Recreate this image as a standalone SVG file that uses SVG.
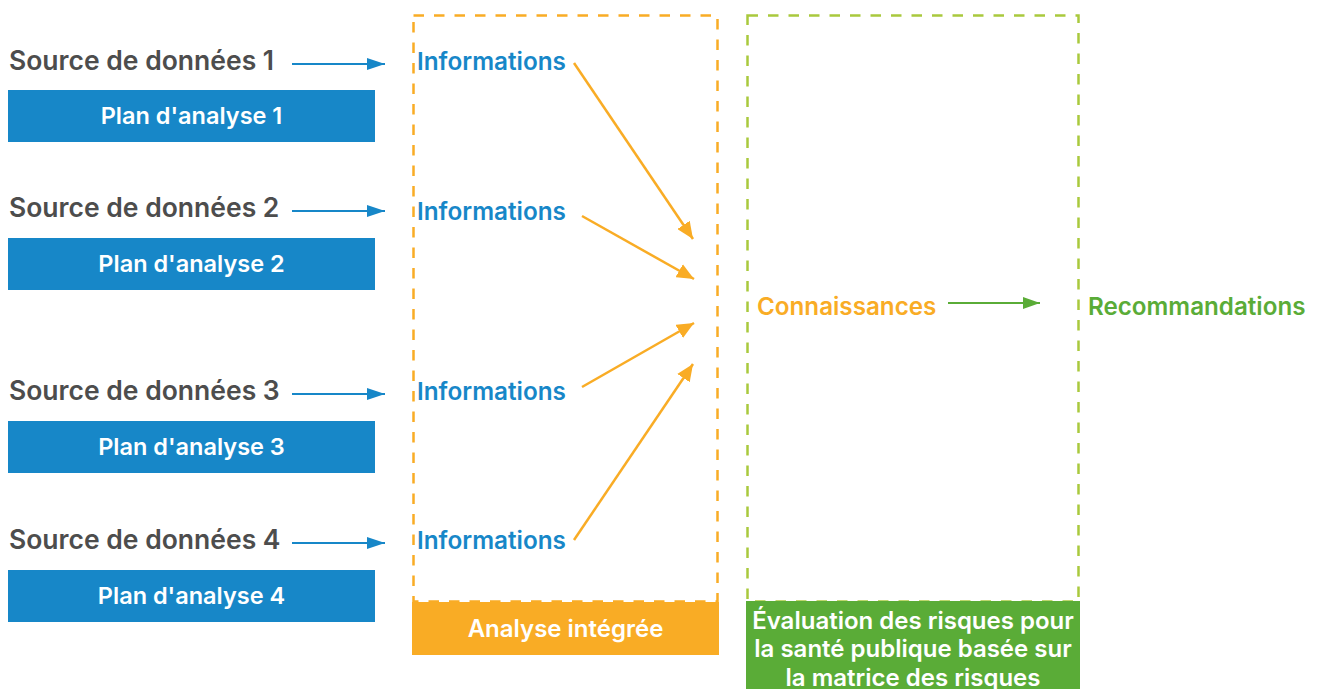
<svg xmlns="http://www.w3.org/2000/svg" width="1320" height="689" viewBox="0 0 1320 689">
  <defs>
    <style>
      text { font-family: Inter, "Liberation Sans", sans-serif; font-weight: 600; }
      .src { fill: #4d4d4d; font-size: 26.5px; }
      .plan { fill: #1787c8; }
      .plan-t { fill: #ffffff; font-size: 23.5px; text-anchor: middle; }
      .info { fill: #1787c8; font-size: 24.3px; }
      .blue-line { stroke: #1787c8; stroke-width: 2; fill: none; }
      .orange-line { stroke: #f9ac25; stroke-width: 2.5; fill: none; }
      .green-line { stroke: #5aac37; stroke-width: 2; fill: none; }
      .frame-o { fill: none; stroke: #f9ac25; stroke-width: 2.5; stroke-dasharray: 10.5 10; }
      .frame-g { fill: none; stroke: #a9c93d; stroke-width: 2.5; stroke-dasharray: 10.5 10; }
      .band-t { fill: #ffffff; font-size: 24px; text-anchor: middle; }
    </style>
    <marker id="ah-blue" viewBox="0 0 10 10" refX="10" refY="5" markerWidth="18" markerHeight="12" markerUnits="userSpaceOnUse" orient="auto" preserveAspectRatio="none">
      <path d="M0,0 L10,5 L0,10 z" fill="#1787c8"/>
    </marker>
    <marker id="ah-orange" viewBox="0 0 10 10" refX="10" refY="5" markerWidth="17" markerHeight="15" markerUnits="userSpaceOnUse" orient="auto" preserveAspectRatio="none">
      <path d="M0,0 L10,5 L0,10 z" fill="#f9ac25"/>
    </marker>
    <marker id="ah-green" viewBox="0 0 10 10" refX="10" refY="5" markerWidth="17" markerHeight="12" markerUnits="userSpaceOnUse" orient="auto" preserveAspectRatio="none">
      <path d="M0,0 L10,5 L0,10 z" fill="#5aac37"/>
    </marker>
  </defs>

  <!-- Integrated analysis frame -->
  <g id="analyse-integree">
    <rect class="frame-o" x="413.5" y="15.5" width="304" height="586"/>
    <rect x="412" y="602" width="307" height="53" fill="#f9ac25"/>
    <text class="band-t" x="565.5" y="636.5">Analyse intégrée</text>
  </g>

  <!-- Risk assessment frame -->
  <g id="evaluation-risques">
    <rect class="frame-g" x="747.5" y="15.5" width="331" height="586"/>
    <rect x="746" y="601" width="334" height="88" fill="#5aac37"/>
    <text class="band-t" x="913" y="628.5">Évaluation des risques pour</text>
    <text class="band-t" x="913" y="656.5">la santé publique basée sur</text>
    <text class="band-t" x="913" y="685.5">la matrice des risques</text>
  </g>

  <!-- Data sources and analysis plans -->
  <g id="source-1">
    <text class="src" x="9" y="70">Source de données 1</text>
    <rect class="plan" x="8" y="90" width="367" height="52"/>
    <text class="plan-t" x="191.5" y="123.5">Plan d'analyse 1</text>
  </g>
  <g id="source-2">
    <text class="src" x="9" y="217">Source de données 2</text>
    <rect class="plan" x="8" y="238" width="367" height="52"/>
    <text class="plan-t" x="191.5" y="271.5">Plan d'analyse 2</text>
  </g>
  <g id="source-3">
    <text class="src" x="9" y="399.5">Source de données 3</text>
    <rect class="plan" x="8" y="421" width="367" height="52"/>
    <text class="plan-t" x="191.5" y="454.5">Plan d'analyse 3</text>
  </g>
  <g id="source-4">
    <text class="src" x="9" y="548.5">Source de données 4</text>
    <rect class="plan" x="8" y="570" width="367" height="52"/>
    <text class="plan-t" x="191.5" y="603.5">Plan d'analyse 4</text>
  </g>

  <!-- Information items -->
  <g id="info-1"><text class="info" x="417" y="70">Informations</text></g>
  <g id="info-2"><text class="info" x="417" y="220">Informations</text></g>
  <g id="info-3"><text class="info" x="417" y="400">Informations</text></g>
  <g id="info-4"><text class="info" x="417" y="549">Informations</text></g>

  <!-- Outcomes -->
  <g id="connaissances"><text x="757" y="315" font-size="24.2" fill="#f9ac25">Connaissances</text></g>
  <g id="recommandations"><text x="1088" y="315" font-size="24.2" fill="#5aac37">Recommandations</text></g>

  <!-- Connectors -->
  <g id="connectors">
    <line class="blue-line" x1="292" y1="64" x2="385" y2="64" marker-end="url(#ah-blue)"/>
    <line class="blue-line" x1="292" y1="211" x2="385" y2="211" marker-end="url(#ah-blue)"/>
    <line class="blue-line" x1="292" y1="394" x2="385" y2="394" marker-end="url(#ah-blue)"/>
    <line class="blue-line" x1="292" y1="543" x2="385" y2="543" marker-end="url(#ah-blue)"/>
    <line class="orange-line" x1="574" y1="63" x2="693" y2="239" marker-end="url(#ah-orange)"/>
    <line class="orange-line" x1="582" y1="216" x2="694" y2="279" marker-end="url(#ah-orange)"/>
    <line class="orange-line" x1="582" y1="387" x2="694" y2="323" marker-end="url(#ah-orange)"/>
    <line class="orange-line" x1="574" y1="540" x2="693" y2="364" marker-end="url(#ah-orange)"/>
    <line class="green-line" x1="948" y1="303" x2="1040" y2="303" marker-end="url(#ah-green)"/>
  </g>
</svg>
